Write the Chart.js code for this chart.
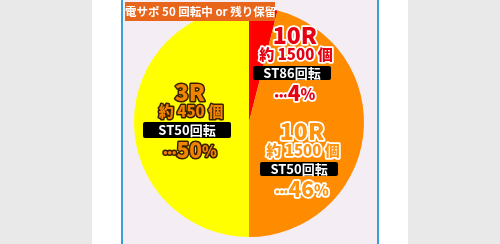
<!DOCTYPE html>
<html>
<head>
<meta charset="utf-8">
<script src="https://cdn.jsdelivr.net/npm/chart.js@4"></script>
<style>
  html, body { margin: 0; padding: 0; }
  body { width: 500px; height: 244px; background: #e9e9e9; position: relative; overflow: hidden; }
  #strip { position: absolute; left: 92px; top: 0; width: 316px; height: 244px; background: #ffffff; }
  #panel { position: absolute; left: 121px; top: 0; width: 254px; height: 244px; background: #f4edf3;
           border-left: 2px solid #3a9fd4; border-right: 2px solid #3a9fd4; }
  #wrap { position: absolute; left: 122px; top: 0; width: 254px; height: 244px; }
  #tag { position: absolute; left: 125px; top: 2px; width: 150px; height: 19px; background: #e8651c; color: #fff;
         font: bold 11.5px "Noto Sans CJK JP", sans-serif; line-height: 19px; text-align: center; white-space: nowrap; z-index: 2; }
</style>
</head>
<body>
<div id="strip"></div>
<div id="panel"></div>
<div id="wrap"><canvas id="pieChart" width="254" height="244"></canvas></div>
<div id="tag">電サポ 50 回転中 or 残り保留</div>
<script>
// slice data (clockwise from top)
const rounds = ['10R', '10R', '3R'];
const balls = ['約 1500 個', '約 1500 個', '約 450 個'];
const stRuns = ['ST86回転', 'ST50回転', 'ST50回転'];
const shares = [4, 46, 50];
const sliceColors = ['#ff0000', '#ff8c00', '#ffff00'];

// text look per slice
const labelStyles = [
  { fill: '#e60012', stroke: '#ffffff', dx: 0.40, dy: -0.757, boxW: 78 },
  { fill: '#ff9410', stroke: '#ffffff', dx: 0.461, dy: 0.078, boxW: 78 },
  { fill: '#f08300', stroke: '#3a2000', dx: -0.513, dy: -0.261, boxW: 88 },
];

const JP = '"Noto Sans CJK JP", sans-serif';

function outlined(ctx, text, x, y, font, st, lw) {
  ctx.font = font;
  ctx.lineJoin = 'round';
  ctx.lineWidth = lw;
  ctx.strokeStyle = st.stroke;
  ctx.strokeText(text, x, y);
  ctx.fillStyle = st.fill;
  ctx.fillText(text, x, y);
}

const sliceLabels = {
  id: 'sliceLabels',
  afterDatasetsDraw(chart) {
    const ctx = chart.ctx;
    const arc = chart.getDatasetMeta(0).data[0];
    const cx = arc.x, cy = arc.y, r = arc.outerRadius;
    ctx.save();
    ctx.textAlign = 'center';
    ctx.textBaseline = 'middle';
    shares.forEach((share, i) => {
      const st = labelStyles[i];
      const x = cx + st.dx * r;
      const y = cy + st.dy * r;
      const lw = i === 2 ? 3 : 3.5;
      outlined(ctx, rounds[i], x, y, '900 23px ' + JP, st, lw);
      outlined(ctx, balls[i], x + 1, y + 19, '900 15px ' + JP, st, lw);
      // black tag
      const bw = st.boxW, bh = i === 2 ? 16 : 14;
      const bx = x - 3 - bw / 2, by = y + 38 - bh / 2;
      ctx.fillStyle = '#000000';
      ctx.beginPath();
      ctx.roundRect(bx, by, bw, bh, 2);
      ctx.fill();
      ctx.fillStyle = '#ffffff';
      ctx.font = 'bold 13px ' + JP;
      ctx.fillText(stRuns[i], x - 3, y + 38.5);
      // …NN%
      const py = y + 58;
      ctx.font = '900 11px ' + JP;
      const dotsW = ctx.measureText('•••').width;
      ctx.font = '900 21px ' + JP;
      const numW = ctx.measureText(String(share)).width;
      ctx.font = '900 15px ' + JP;
      const pctW = ctx.measureText('%').width;
      let left = x - (dotsW + numW + pctW) / 2;
      ctx.textAlign = 'left';
      outlined(ctx, '•••', left, py + 2, '900 11px ' + JP, st, lw);
      outlined(ctx, String(share), left + dotsW, py, '900 21px ' + JP, st, lw);
      outlined(ctx, '%', left + dotsW + numW, py + 1, '900 15px ' + JP, st, lw);
      ctx.textAlign = 'center';
    });
    ctx.restore();
  }
};

new Chart(document.getElementById('pieChart').getContext('2d'), {
  type: 'pie',
  data: {
    labels: rounds.map((r, i) => r + ' ' + balls[i] + ' ' + stRuns[i]),
    datasets: [{
      data: shares,
      backgroundColor: sliceColors,
      borderWidth: 0,
    }],
  },
  options: {
    responsive: false,
    devicePixelRatio: 1,
    animation: false,
    layout: { padding: { top: 7, bottom: 7 } },
    plugins: {
      legend: { display: false },
      tooltip: { enabled: false },
    },
  },
  plugins: [sliceLabels],
});
</script>
</body>
</html>
